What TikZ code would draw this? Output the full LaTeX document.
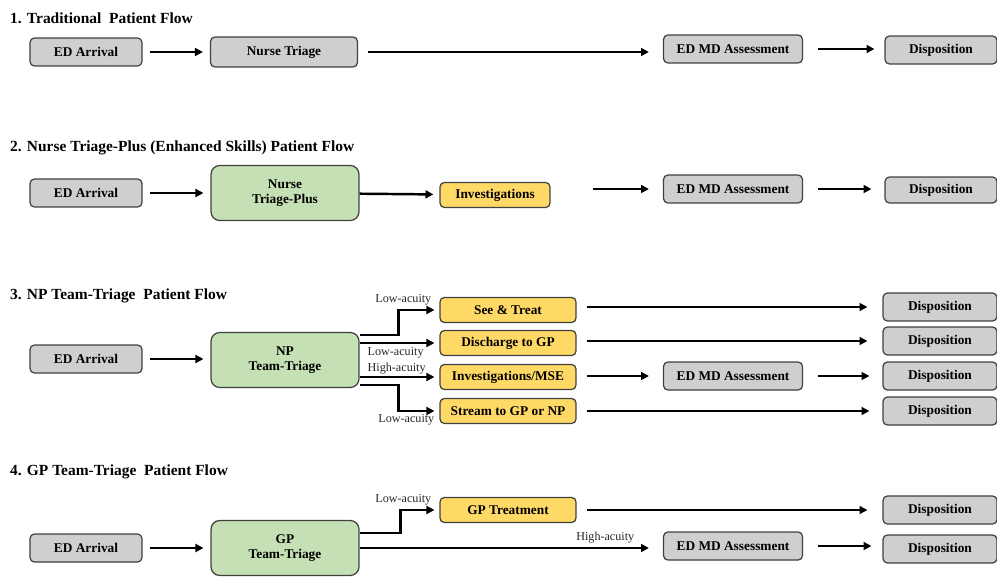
\documentclass[tikz,border=0pt]{standalone}
\usepackage{fontspec}
\setmainfont{Liberation Serif}
\usetikzlibrary{arrows.meta,positioning}
\definecolor{boxgray}{HTML}{D0CECE}
\definecolor{boxgreen}{HTML}{C5E0B4}
\definecolor{boxyellow}{HTML}{FFD966}
\definecolor{boxline}{HTML}{404040}

\begin{document}
\begin{tikzpicture}[x=0.02cm, y=-0.02cm,
  step box/.style = {draw=boxline, line width=0.7pt, rounded corners=2.5pt,
    font=\fontsize{7.6}{8.6}\selectfont\bfseries, align=center},
  grey/.style = {step box, fill=boxgray, minimum width=2.24cm, minimum height=0.56cm},
  green/.style = {step box, fill=boxgreen, minimum width=2.96cm, minimum height=1.1cm, rounded corners=5pt},
  yellow/.style = {step box, fill=boxyellow, minimum width=2.72cm, minimum height=0.5cm},
  title/.style = {anchor=west, font=\fontsize{8.8}{10}\selectfont\bfseries},
  lbl/.style = {font=\fontsize{6.9}{8}\selectfont, inner sep=1pt, text=black!85},
  flow/.style = {-{Triangle[length=4.5pt,width=4.5pt]}, line width=1.4pt,
    shorten <=0.14cm, shorten >=0.14cm}]

  \useasboundingbox (0,0) rectangle (997,581);

  % 1. Traditional
  \node[title] (t1) at (4,18) {1. Traditional\ \ Patient Flow};
  \node[grey] (arr1) at (86,52) {ED Arrival};
  \node[grey, minimum width=2.94cm, minimum height=0.6cm] (tri1) at (284,52) {Nurse Triage};
  \node[grey, minimum width=2.78cm] (md1) at (733,49) {ED MD Assessment};
  \node[grey] (dis1) at (941,50) {Disposition};
  \draw[flow] (arr1) -- (tri1);
  \draw[flow, shorten <=0.2cm, shorten >=0.28cm] (tri1.east) -- (tri1.east -| md1.west);
  \draw[flow, shorten <=0.3cm, shorten >=0.2cm] (md1.east) -- (md1.east -| dis1.west);

  % 2. Nurse Triage-Plus
  \node[title] (t2) at (4,148) {2. Nurse Triage-Plus (Enhanced Skills) Patient Flow};
  \node[grey] (arr2) at (86,193) {ED Arrival};
  \node[green] (tri2) at (285,193) {Nurse\\Triage-Plus};
  \node[yellow, minimum width=2.2cm] (inv2) at (495,195) {Investigations};
  \node[grey, minimum width=2.78cm] (md2) at (733,189) {ED MD Assessment};
  \node[grey, minimum height=0.52cm] (dis2) at (941,190) {Disposition};
  \draw[flow] (arr2) -- (tri2);
  \draw[flow, shorten <=0pt, shorten >=0.12cm] (tri2) -- (inv2);
  \draw[flow, shorten <=0.84cm, shorten >=0.28cm] (inv2.east |- md2.west) -- (md2.west);
  \draw[flow, shorten <=0.3cm, shorten >=0.26cm] (md2.east) -- (md2.east -| dis2.west);

  % 3. NP Team-Triage
  \node[title] (t3) at (4,296) {3. NP Team-Triage\ \ Patient Flow};
  \node[grey] (arr3) at (86,359) {ED Arrival};
  \node[green] (np3) at (285,360) {NP\\Team-Triage};
  \node[yellow] (st3) at (508,310) {See \& Treat};
  \node[yellow] (dc3) at (508,343) {Discharge to GP};
  \node[yellow] (iv3) at (508,377) {Investigations/MSE};
  \node[yellow] (sm3) at (508,411) {Stream to GP or NP};
  \node[grey, minimum width=2.78cm] (md3) at (733,376) {ED MD Assessment};
  \node[grey, minimum width=2.28cm] (dis3a) at (940,307) {Disposition};
  \node[grey, minimum width=2.28cm] (dis3b) at (940,341) {Disposition};
  \node[grey, minimum width=2.28cm] (dis3c) at (940,376) {Disposition};
  \node[grey, minimum width=2.28cm] (dis3d) at (940,411) {Disposition};
  \draw[flow] (arr3.east) -- (arr3.east -| np3.west);
  \draw[flow, shorten <=0pt, shorten >=0.1cm] ([yshift=0.5cm]np3.east) -- ++(0.78cm,0) |- (st3.west);
  \draw[flow, shorten <=0pt, shorten >=0.1cm] (np3.east |- dc3.west) -- (dc3.west);
  \draw[flow, shorten <=0pt, shorten >=0.1cm] (np3.east |- iv3.west) -- (iv3.west);
  \draw[flow, shorten <=0pt, shorten >=0.1cm] ([yshift=-0.5cm]np3.east) -- ++(0.78cm,0) |- (sm3.west);
  \node[lbl, anchor=south east] (lo3a) at ([shift={(-0.12cm,0.06cm)}]st3.west) {Low-acuity};
  \node[lbl, anchor=north west] (lo3b) at ([shift={(0.12cm,0.3cm)}]np3.east) {Low-acuity};
  \node[lbl, anchor=south west] (hi3) at ([shift={(0.12cm,-0.32cm)}]np3.east) {High-acuity};
  \node[lbl, anchor=north east] (lo3c) at ([shift={(-0.06cm,-0.02cm)}]sm3.west) {Low-acuity};
  \draw[flow, shorten <=0.2cm, shorten >=0.3cm] (st3.east |- dis3a.west) -- (dis3a.west);
  \draw[flow, shorten <=0.2cm, shorten >=0.3cm] (dc3.east |- dis3b.west) -- (dis3b.west);
  \draw[flow, shorten <=0.2cm, shorten >=0.28cm] (iv3.east |- md3.west) -- (md3.west);
  \draw[flow, shorten <=0.3cm, shorten >=0.26cm] (md3) -- (dis3c);
  \draw[flow, shorten <=0.2cm, shorten >=0.26cm] (sm3) -- (dis3d);

  % 4. GP Team-Triage
  \node[title] (t4) at (4,472) {4. GP Team-Triage\ \ Patient Flow};
  \node[grey] (arr4) at (86,548) {ED Arrival};
  \node[green] (gp4) at (285,548) {GP\\Team-Triage};
  \node[yellow] (gpt4) at (508,510) {GP Treatment};
  \node[grey, minimum width=2.78cm] (md4) at (733,546) {ED MD Assessment};
  \node[grey, minimum width=2.28cm] (dis4a) at (940,510) {Disposition};
  \node[grey, minimum width=2.28cm] (dis4b) at (940,549) {Disposition};
  \draw[flow] (arr4) -- (gp4);
  \draw[flow, shorten <=0pt, shorten >=0.1cm] ([yshift=0.3cm]gp4.east) -- ++(0.82cm,0) |- (gpt4.west);
  \node[lbl, anchor=south east] (lo4) at ([shift={(-0.12cm,0.06cm)}]gpt4.west) {Low-acuity};
  \draw[flow, shorten <=0pt, shorten >=0.28cm] (gp4.east) -- node[lbl, pos=0.81, above=1pt] (hi4) {High-acuity} (gp4.east -| md4.west);
  \draw[flow, shorten <=0.2cm, shorten >=0.3cm] (gpt4) -- (dis4a);
  \draw[flow, shorten <=0.3cm, shorten >=0.22cm] (md4.east) -- (md4.east -| dis4b.west);
\end{tikzpicture}
\end{document}
